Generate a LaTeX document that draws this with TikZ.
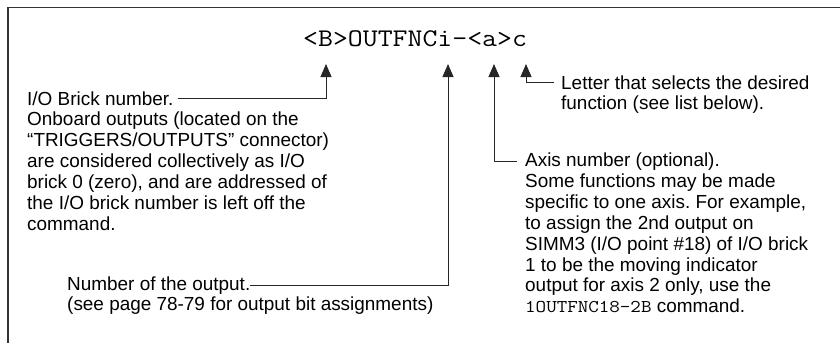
\documentclass[tikz,border=0pt]{standalone}
\usepackage{fontspec}
\usepackage{graphicx}
\setmainfont{Liberation Sans}
\usetikzlibrary{arrows.meta}
\frenchspacing
% typewriter face for the command strings, widened to a Courier-like pitch
\newcommand{\cmdtext}[1]{\scalebox{1.14}[1]{\ttfamily #1}}
\begin{document}
\begin{tikzpicture}[x=1bp,y=-1bp,
  txt/.style={font=\fontsize{19}{21}\selectfont, inner sep=0, anchor=base west},
  cmd/.style={font=\ttfamily\fontsize{25.5}{26}\selectfont, inner sep=0, anchor=base west},
  lead/.style={line width=1bp, draw=black!85, -{Triangle[length=13bp,width=11bp]}},
  frameline/.style={line width=1.5bp, draw=black!80}]
\useasboundingbox (0,0) rectangle (840,343);

% open frame: top and left edges only
\draw[frameline] (8,343) -- (8,7.5) -- (840,7.5);

% command syntax
\node[cmd] (syntax) at (303,46) {\cmdtext{<B>OUTFNCi-<a>c}};
\coordinate (tipB) at (326,64);
\coordinate (tipI) at (448,64);
\coordinate (tipA) at (494,64);
\coordinate (tipC) at (526,64);

% brick number description
\node[txt] (brick1) at (27,105.0) {I/O Brick number.};
\node[txt] (brick2) at (27,125.9) {Onboard outputs (located on the};
\node[txt] (brick3) at (27,146.8) {“TRIGGERS/OUTPUTS” connector)};
\node[txt] (brick4) at (27,167.7) {are considered collectively as I/O};
\node[txt] (brick5) at (27,188.6) {brick 0 (zero), and are addressed of};
\node[txt] (brick6) at (27,209.5) {the I/O brick number is left off the};
\node[txt] (brick7) at (27,230.4) {command.};

% output number description
\node[txt] (out1) at (67,290) {Number of the output.};
\node[txt] (out2) at (67,310.9) {(see page 78-79 for output bit assignments)};

% function letter description
\node[txt] (let1) at (561,89) {Letter that selects the desired};
\node[txt] (let2) at (561,109.9) {function (see list below).};

% axis number description
\node[txt] (axis1) at (525,166.5) {Axis number (optional).};
\node[txt] (axis2) at (525,187.4) {Some functions may be made};
\node[txt] (axis3) at (525,208.3) {specific to one axis. For example,};
\node[txt] (axis4) at (525,229.2) {to assign the 2nd output on};
\node[txt] (axis5) at (525,250.1) {SIMM3 (I/O point \#18) of I/O brick};
\node[txt] (axis6) at (525,271.0) {1 to be the moving indicator};
\node[txt] (axis7) at (525,291.9) {output for axis 2 only, use the};
\node[txt] (axis8) at (525,312.8) {{\fontsize{18}{21}\selectfont\cmdtext{1OUTFNC18-2B}} command.};

% leaders
\draw[lead] ([xshift=4bp]brick1.east) -| (tipB);
\draw[lead] (out1.east) -| (tipI);
\draw[lead] ([xshift=-8bp]axis1.west) -| (tipA);
\draw[lead] ([xshift=-7bp]let1.west) -| (tipC);
\end{tikzpicture}
\end{document}
